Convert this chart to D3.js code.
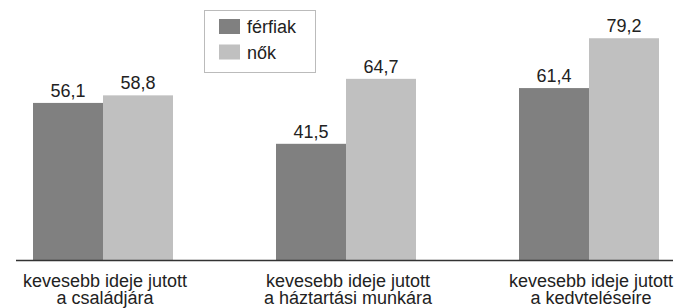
<!DOCTYPE html>
<html>
<head>
<meta charset="utf-8">
<script src="https://cdn.jsdelivr.net/npm/d3@7"></script>
<style>
  body { margin: 0; background: #fff; }
  svg { display: block; font-family: "Liberation Sans", Arial, sans-serif; }
</style>
</head>
<body>
<svg id="chart" width="676" height="308"></svg>
<script>
const categories = [
  ["kevesebb ideje jutott", "a családjára"],
  ["kevesebb ideje jutott", "a háztartási munkára"],
  ["kevesebb ideje jutott", "a kedvteléseire"]
];
const seriesNames = ["férfiak", "nők"];
const ferfiak = [56.1, 41.5, 61.4];
const nok = [58.8, 64.7, 79.2];
const colors = ["#808080", "#c0c0c0"];

const svg = d3.select("#chart");
const baseY = 260;

const x0 = d3.scaleBand()
  .domain(d3.range(categories.length))
  .range([16, 676])
  .paddingInner(0.4239)
  .paddingOuter(0.07);

const x1 = d3.scaleBand()
  .domain(d3.range(seriesNames.length))
  .range([0, x0.bandwidth()]);

const y = d3.scaleLinear()
  .domain([0, 90])
  .range([baseY, baseY - 2.8 * 90]);

const fmt = (v) => d3.format(".1f")(v).replace(".", ",");

const groups = svg.append("g")
  .selectAll("g")
  .data(categories.map((c, i) => ({ i, vals: [ferfiak[i], nok[i]] })))
  .enter().append("g")
  .attr("transform", (d) => `translate(${x0(d.i)},0)`);

groups.selectAll("rect")
  .data((d) => d.vals)
  .enter().append("rect")
  .attr("x", (d, j) => x1(j))
  .attr("y", (d) => y(d))
  .attr("width", x1.bandwidth())
  .attr("height", (d) => y(0) - y(d))
  .attr("fill", (d, j) => colors[j]);

groups.selectAll("text.val")
  .data((d) => d.vals)
  .enter().append("text")
  .attr("class", "val")
  .attr("x", (d, j) => x1(j) + x1.bandwidth() / 2)
  .attr("y", (d) => y(d) - 6)
  .attr("text-anchor", "middle")
  .attr("font-size", 18)
  .attr("fill", "#222")
  .text(fmt);

// axis line
svg.append("line")
  .attr("x1", 16).attr("x2", 673)
  .attr("y1", baseY + 0.5).attr("y2", baseY + 0.5)
  .attr("stroke", "#333").attr("stroke-width", 1.3);

// category labels, two lines each
const labelLines = [];
categories.forEach((lines, i) => {
  lines.forEach((t, k) => labelLines.push({ i, k, t }));
});
svg.append("g")
  .selectAll("text")
  .data(labelLines)
  .enter().append("text")
  .attr("x", (d) => x0(d.i) + x0.bandwidth() / 2 + 2)
  .attr("y", (d) => 287 + d.k * 17)
  .attr("text-anchor", "middle")
  .attr("font-size", 18)
  .attr("fill", "#222")
  .text((d) => d.t);

// legend
const legend = svg.append("g");
legend.append("rect")
  .attr("x", 204.5).attr("y", 10.5)
  .attr("width", 111).attr("height", 62)
  .attr("fill", "#fff").attr("stroke", "#bbb");
const li = legend.selectAll("g")
  .data(seriesNames)
  .enter().append("g")
  .attr("transform", (d, i) => `translate(219,${19 + i * 25.5})`);
li.append("rect")
  .attr("width", 21).attr("height", 15)
  .attr("fill", (d, i) => colors[i]);
li.append("text")
  .attr("x", 28).attr("y", 14)
  .attr("font-size", 18)
  .attr("fill", "#222")
  .text((d) => d);
</script>
</body>
</html>
